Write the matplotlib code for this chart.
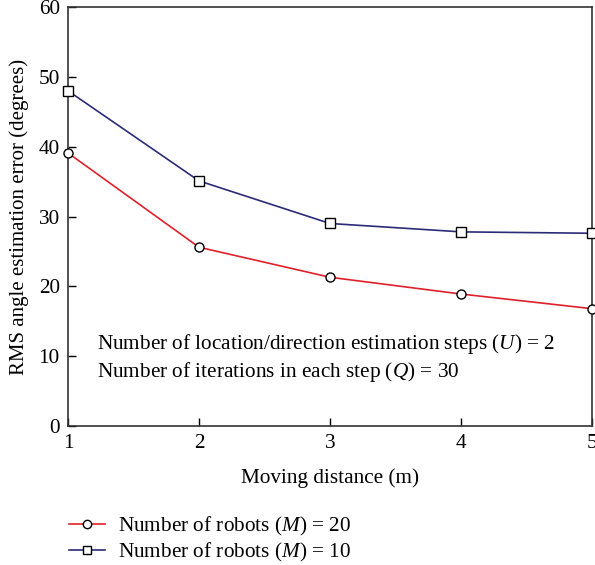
import matplotlib
matplotlib.use('Agg')
import matplotlib.pyplot as plt
from matplotlib.lines import Line2D

plt.rcParams['font.family'] = ['Liberation Serif', 'DejaVu Serif']
plt.rcParams['mathtext.fontset'] = 'custom'
plt.rcParams['mathtext.rm'] = 'Liberation Serif'
plt.rcParams['mathtext.it'] = 'Liberation Serif:italic'

# moving distance (m) and RMS angle error (degrees)
distance = [1, 2, 3, 4, 5]
err_m20 = [39.1, 25.6, 21.3, 18.9, 16.8]
err_m10 = [48.0, 35.1, 29.0, 27.8, 27.6]
labels = [r'Number of robots ($M$) = 20', r'Number of robots ($M$) = 10']
note = [r'Number of location/direction estimation steps ($U$) = 2',
        r'Number of iterations in each step ($Q$) = 30']

red = '#e0202a'
navy = '#2b2b78'
fs = 15.3

fig = plt.figure(figsize=(5.95, 5.65), dpi=100)
ax = fig.add_axes([68/595, 1-426/565, (592-68)/595, (426-7)/565])

ax.plot(distance, err_m20, color=red, lw=1.2, marker='o', ms=6.5,
        mfc='white', mec='black', mew=1.0, clip_on=False, zorder=3)
ax.plot(distance, err_m10, color=navy, lw=1.2, marker='s', ms=6.5,
        mfc='white', mec='black', mew=1.0, clip_on=False, zorder=3)

ax.set_xlim(1, 5)
ax.set_ylim(0, 60)
ax.set_xticks([1, 2, 3, 4, 5])
ax.set_yticks(range(0, 61, 10))
ax.tick_params(direction='in', length=6, width=1, labelsize=fs, pad=6)
for s in ax.spines.values():
    s.set_linewidth(1.2)
    s.set_color('#333333')

ax.set_xlabel('Moving distance (m)', fontsize=fs, labelpad=11)
ax.set_ylabel('RMS angle estimation error (degrees)', fontsize=fs - 0.3, labelpad=7)

ax.text(0.055, 0.195, note[0], transform=ax.transAxes, fontsize=fs, va='center')
ax.text(0.055, 0.128, note[1], transform=ax.transAxes, fontsize=fs, va='center')

handles = [Line2D([], [], color=red, lw=1.2, marker='o', ms=6, mfc='white', mec='black'),
           Line2D([], [], color=navy, lw=1.2, marker='s', ms=6, mfc='white', mec='black')]
fig.legend(handles, labels, loc='upper left', bbox_to_anchor=(60/595, 1-506/565),
           frameon=False, fontsize=fs, handlelength=1.7, handletextpad=0.65,
           labelspacing=0.15, borderaxespad=0)

fig.savefig('out.png', dpi=100, facecolor='white')
